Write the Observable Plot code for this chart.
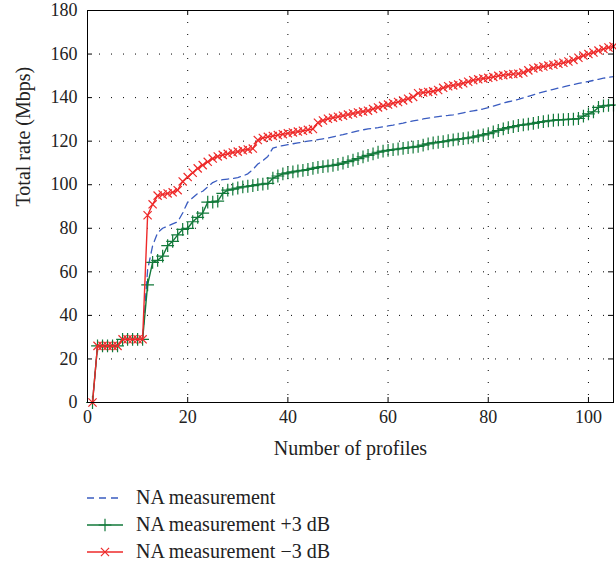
<!DOCTYPE html>
<html>
<head>
<meta charset="utf-8">
<script src="https://cdn.jsdelivr.net/npm/d3@7"></script>
<script src="https://cdn.jsdelivr.net/npm/@observablehq/plot@0.6"></script>
<style>
  body { margin: 0; background: #fff; font-family: "Liberation Serif", "DejaVu Serif", serif; }
  #legend { margin-left: 87px; padding-top: 14px; font-size: 20px; color: #222; }
  .row { height: 27px; display: flex; align-items: center; }
  .row svg { margin-right: 13px; }
</style>
</head>
<body>
<div id="chart"></div>
<div id="legend"></div>
<script>
const profiles = d3.range(1, 106);
const seriesNames = ["NA measurement", "NA measurement +3 dB", "NA measurement \u22123 dB"];
const seriesColors = ["#3a5cc0", "#12793a", "#ee2a2a"];

const naMeasurement = [0,26,26,26,26,26,29,29,29,29,29,61,72,78,80,81,82,83,87,92,
94,96,97,99,101,102,102.3,102.6,102.9,103.3,104,105,107,109.5,111,113,116.8,117.5,118,118.4,
118.8,119.2,119.6,120,120.3,120.7,121.1,121.5,122,122.5,123,123.6,124.2,124.7,125.2,125.6,125.9,126.2,126.6,127,
127.4,127.9,128.3,128.8,129.3,129.7,130.2,130.6,131,131.3,131.6,131.8,132.1,132.5,133,133.5,133.9,134.3,134.8,135.4,
136.1,136.8,137.5,138.1,138.6,139.2,139.9,140.6,141.3,142,142.6,143.2,143.8,144.4,144.9,145.5,146,146.5,147,147.4,
147.9,148.4,148.9,149.3,149.6];

const naPlus3 = [0,26,26,26,26,26,29,29,29,29,29,54,64.3,65.3,67.2,72,74,77,79.5,80,
83,85,87,92,92,92.5,96,97.5,98,98.5,99,99.3,99.6,100,100.3,100.6,103,104,105,105.4,
105.9,106.3,106.6,107,107.5,108,108.3,108.6,108.9,109.3,109.9,110.6,111.3,112,112.8,113.5,114.2,114.9,115.4,115.8,
116.1,116.4,116.7,117,117.3,117.6,118.2,118.8,119.2,119.5,119.8,120.2,120.6,120.9,121.2,121.5,121.9,122.4,122.9,123.5,
124.2,124.9,125.6,126.2,126.7,127.2,127.5,127.8,128.2,128.6,129,129.3,129.6,129.8,129.9,130,130.1,130.4,131.5,132.5,
133.5,135.5,136.2,136.4,136.6];

const naMinus3 = [0,26,26,26,26,26,29,29,29,29,29,86,91,95,95.5,96,96.5,97.5,101.5,103.5,
105.5,107.5,109,110.5,112,113,113.7,114.2,114.8,115.2,115.8,116.2,116.6,120.5,121.5,122,122.4,122.8,123.2,123.6,
124,124.4,124.8,125.2,125.6,128.5,129.5,130.3,130.8,131.2,131.7,132.2,132.7,133.2,133.6,134,134.8,135.5,136.2,136.8,
137.4,138,138.7,139.5,140.3,142,142.3,142.6,142.9,143.5,144.5,145.2,145.6,146,146.6,147.3,148,148.4,148.8,149.1,
149.5,150,150.3,150.6,150.8,151,151.5,152.5,153.4,153.8,154.3,154.7,155.1,155.5,156,156.6,157.3,158.3,159.3,160,
160.7,161.6,162.3,163,163.5];

const xTicks = [0, 20, 40, 60, 80, 100];
const yTicks = [0, 20, 40, 60, 80, 100, 120, 140, 160, 180];
const xLabel = "Number of profiles";
const yLabel = "Total rate (Mbps)";

const toRows = arr => profiles.map((p, i) => ({x: p, y: arr[i]}));
const blue = toRows(naMeasurement), green = toRows(naPlus3), red = toRows(naMinus3);

const W = 616, H = 470, mL = 87, mR = 3, mT = 10, mB = 68;
const innerW = W - mL - mR, innerH = H - mT - mB, tk = 5;

const chart = Plot.plot({
  width: W, height: H,
  marginLeft: mL, marginRight: mR, marginTop: mT, marginBottom: mB,
  style: {fontFamily: "'Liberation Serif', 'DejaVu Serif', serif", fontSize: "18px", color: "#222", background: "#fff"},
  x: {domain: [0, 105]},
  y: {domain: [0, 180]},
  marks: [
    Plot.gridX(xTicks, {stroke: "#000", strokeOpacity: 1, strokeWidth: 1, strokeDasharray: "1,11"}),
    Plot.gridY(yTicks, {stroke: "#000", strokeOpacity: 1, strokeWidth: 1, strokeDasharray: "1,11"}),
    Plot.ruleX(xTicks, {x: d => d, insetTop: innerH - tk, stroke: "#000"}),
    Plot.ruleX(xTicks, {x: d => d, insetBottom: innerH - tk, stroke: "#000"}),
    Plot.ruleY(yTicks, {y: d => d, insetRight: innerW - tk, stroke: "#000"}),
    Plot.ruleY(yTicks, {y: d => d, insetLeft: innerW - tk, stroke: "#000"}),
    Plot.lineY(blue, {x: "x", y: "y", stroke: seriesColors[0], strokeWidth: 1.3, strokeDasharray: "7,5"}),
    Plot.lineY(green, {x: "x", y: "y", stroke: seriesColors[1], strokeWidth: 1.4}),
    Plot.dot(green, {x: "x", y: "y", symbol: "plus", r: 4.2, stroke: seriesColors[1], strokeWidth: 1.2}),
    Plot.lineY(red, {x: "x", y: "y", stroke: seriesColors[2], strokeWidth: 1.4}),
    Plot.dot(red, {x: "x", y: "y", symbol: "times", r: 3.8, stroke: seriesColors[2], strokeWidth: 1.2}),
    Plot.frame({stroke: "#000", strokeWidth: 1}),
    Plot.axisX(xTicks, {tickSize: 0, tickPadding: 8, label: null}),
    Plot.axisY(yTicks, {tickSize: 0, tickPadding: 10, label: null}),
    Plot.text([xLabel], {text: d => d, frameAnchor: "bottom", dy: 52, fontSize: 20, fill: "#222"}),
    Plot.text([yLabel], {text: d => d, frameAnchor: "left", dx: -64, rotate: -90, fontSize: 20, fill: "#222"})
  ]
});
document.getElementById("chart").appendChild(chart);

const legend = document.getElementById("legend");
const symbols = [null, "plus", "times"];
seriesNames.forEach((name, i) => {
  const row = document.createElement("div");
  row.className = "row";
  const ns = "http://www.w3.org/2000/svg";
  const s = document.createElementNS(ns, "svg");
  s.setAttribute("width", 36); s.setAttribute("height", 20);
  const ln = document.createElementNS(ns, "line");
  ln.setAttribute("x1", 0); ln.setAttribute("x2", 36); ln.setAttribute("y1", 10); ln.setAttribute("y2", 10);
  ln.setAttribute("stroke", seriesColors[i]); ln.setAttribute("stroke-width", 1.3);
  if (i === 0) ln.setAttribute("stroke-dasharray", "7,5");
  s.appendChild(ln);
  if (symbols[i]) {
    const p = document.createElementNS(ns, "path");
    p.setAttribute("d", d3.symbol(symbols[i] === "plus" ? d3.symbolPlus : d3.symbolTimes, i === 1 ? 55 : 45)());
    p.setAttribute("transform", "translate(18,10)");
    p.setAttribute("fill", "none"); p.setAttribute("stroke", seriesColors[i]); p.setAttribute("stroke-width", 1.2);
    s.appendChild(p);
  }
  row.appendChild(s);
  const t = document.createElement("span");
  t.textContent = name;
  row.appendChild(t);
  legend.appendChild(row);
});
</script>
</body>
</html>
